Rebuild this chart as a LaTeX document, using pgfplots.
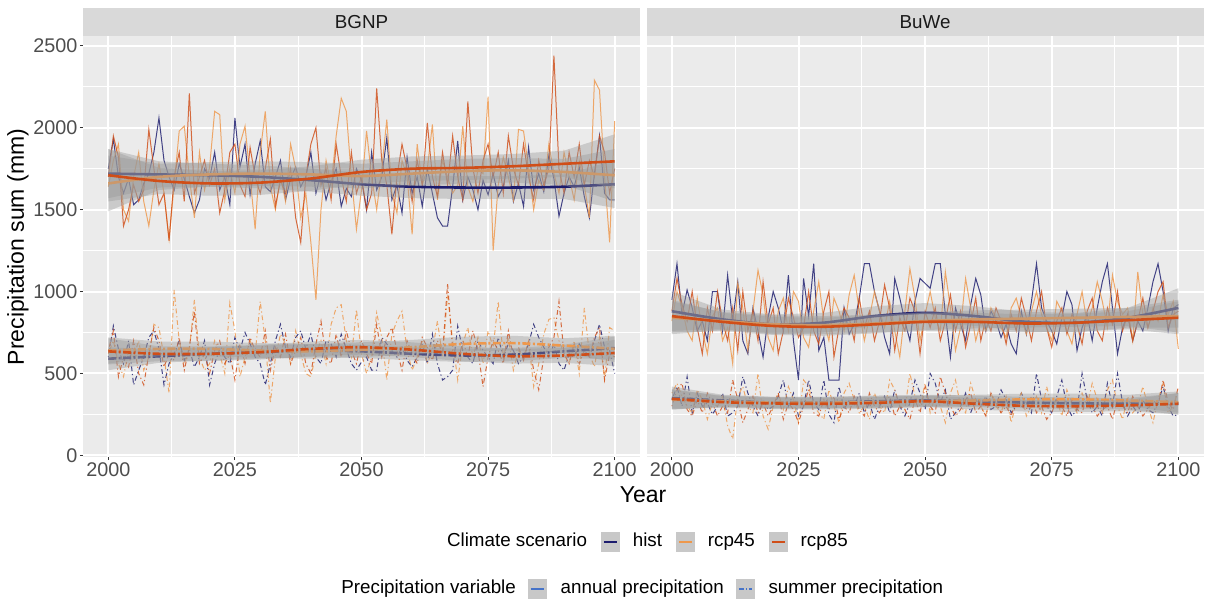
\documentclass[border=0pt]{standalone}
\usepackage{fontspec}
\setmainfont{Liberation Sans}
\usepackage{pgfplots}
\pgfplotsset{compat=1.18}
\usepackage{pgfplotstable}

\definecolor{panelbg}{HTML}{EBEBEB}
\definecolor{stripbg}{HTML}{D9D9D9}
\definecolor{grey10}{HTML}{1A1A1A}
\definecolor{grey20}{HTML}{333333}
\definecolor{grey30}{HTML}{4D4D4D}
\definecolor{ribbonc}{HTML}{999999}
\definecolor{keybg}{HTML}{C8C8C8}
\definecolor{histc}{RGB}{28,28,110}
\definecolor{rcpA}{RGB}{238,152,76}
\definecolor{rcpB}{RGB}{208,78,24}
\definecolor{varc}{RGB}{70,115,200}

\newcommand{\ticksize}{\fontsize{9.9}{11}\selectfont}
\newcommand{\stripsize}{\fontsize{9.4}{11}\selectfont}
\newcommand{\titlesize}{\fontsize{11.5}{13}\selectfont}
\newcommand{\legsize}{\fontsize{9.4}{11}\selectfont}

% yearly precipitation sums (mm): annual (A) and summer (S) for hist (h), rcp45 (a), rcp85 (b)
\pgfplotstableread{
year hA aA bA hS aS bS
2000 1750 1640 1700 600 620 640
2001 1930 1800 1950 790 700 760
2002 1700 1900 1820 650 560 480
2003 1600 1500 1400 560 480 600
2004 1690 1430 1500 700 640 540
2005 1530 1700 1650 430 600 700
2006 1560 1850 1550 520 700 500
2007 1660 1550 1620 600 520 430
2008 1720 1400 1990 720 600 620
2009 1850 1620 1750 760 800 780
2010 2060 1780 1530 650 780 700
2011 1800 1600 1600 430 600 540
2012 1700 1320 1310 560 380 620
2013 1620 1650 1700 620 1010 580
2014 1780 1980 1850 700 700 720
2015 1690 2010 1550 580 560 520
2016 1580 1700 2210 650 640 660
2017 1480 1450 1600 540 950 880
2018 1560 1850 1700 600 600 560
2019 1750 1620 1800 700 520 620
2020 1690 1760 1650 430 560 500
2021 1850 2100 1750 560 700 640
2022 1620 2080 1480 650 620 700
2023 1700 1560 1620 600 500 560
2024 1530 1750 1850 560 930 620
2025 2060 1600 1900 720 760 460
2026 1760 1900 1650 640 480 680
2027 1900 2010 1580 750 600 560
2028 1590 1700 1880 680 700 720
2029 1780 1380 1700 600 620 640
2030 1920 1850 1600 560 940 600
2031 1640 2100 1750 430 700 760
2032 1610 1640 1930 560 320 520
2033 1700 1500 1520 700 600 660
2034 1800 1700 1680 800 740 600
2035 1560 1550 1600 660 680 740
2036 1690 1900 1750 600 560 560
2037 1760 1750 1450 720 760 640
2038 1640 1450 1300 760 620 720
2039 1700 1600 1700 650 500 560
2040 1850 1300 1900 740 480 500
2041 1600 950 2000 600 620 680
2042 1720 1500 1650 560 700 820
2043 1560 1800 1750 700 560 600
2044 1670 1650 1560 680 800 560
2045 1750 1950 1900 600 900 740
2046 1520 2180 1700 740 920 600
2047 1630 2100 1550 650 700 760
2048 1580 1700 1850 560 600 640
2049 1750 1380 1600 520 890 560
2050 1680 1620 1700 570 620 700
2051 1500 1980 1500 600 500 620
2052 1850 1700 1600 520 600 560
2053 1620 1500 2240 520 870 800
2054 1700 1750 1800 720 720 600
2055 1940 2050 1650 680 460 720
2056 1560 1600 1350 640 740 780
2057 1650 1480 1700 600 820 640
2058 1480 1800 1900 660 880 520
2059 1820 1700 1750 580 640 700
2060 1600 1350 1550 540 520 620
2061 1700 1900 1800 600 600 560
2062 1520 1650 1650 680 700 720
2063 1750 1750 2030 560 560 660
2064 1600 2020 1700 740 640 580
2065 1450 1560 1580 560 820 700
2066 1400 1800 1850 460 600 620
2067 1400 1700 1650 480 980 1050
2068 1640 1600 1950 520 700 640
2069 1920 1650 1700 790 460 560
2070 1560 2010 1560 640 680 700
2071 1700 1640 2160 600 780 600
2072 1620 1550 1750 560 600 760
2073 1500 1750 1600 700 720 640
2074 1680 1720 1800 640 560 420
2075 1590 2190 1900 600 760 600
2076 1720 1250 1700 560 660 700
2077 1580 1650 1850 720 940 640
2078 1640 1820 1600 600 600 560
2079 1800 1700 1950 680 720 760
2080 1550 1560 1750 640 520 600
2081 1660 1990 1650 560 640 660
2082 1520 1980 1900 600 600 580
2083 1880 1750 1700 680 700 700
2084 1620 1500 1560 800 420 520
2085 1720 1680 1800 720 560 400
2086 1610 1620 1650 660 740 600
2087 1830 1900 1750 600 830 660
2088 1690 1720 2440 680 840 720
2089 1460 1600 1750 560 700 940
2090 1600 1850 1600 520 620 620
2091 1700 1700 1850 620 560 560
2092 1640 1560 1700 600 700 680
2093 1760 1800 1900 680 500 560
2094 1580 1650 1650 640 900 640
2095 1450 1450 1800 600 620 600
2096 1720 2290 1700 700 540 720
2097 1950 2230 1950 800 720 780
2098 1600 1700 1850 660 470 460
2099 1560 1300 1600 640 780 620
2100 1560 2040 1750 500 760 600
}\bgnp

\pgfplotstableread{
year hA aA bA hS aS bS
2000 950 820 880 340 380 300
2001 1170 1000 1080 420 440 400
2002 860 900 920 300 360 440
2003 1010 760 820 480 300 280
2004 900 700 1000 260 260 240
2005 760 960 780 380 400 340
2006 820 760 620 300 340 260
2007 700 620 900 320 220 380
2008 1000 850 760 250 320 320
2009 1000 900 1000 300 300 240
2010 760 700 820 380 360 300
2011 1100 780 700 240 180 260
2012 820 560 900 260 100 460
2013 1060 1050 640 300 360 340
2014 700 900 1000 480 420 200
2015 620 640 760 380 300 280
2016 900 880 880 300 260 360
2017 760 1130 700 240 500 260
2018 600 980 1060 340 240 320
2019 840 720 800 280 160 240
2020 1000 640 900 300 300 300
2021 900 880 620 360 380 380
2022 760 960 760 460 280 220
2023 1100 760 960 300 420 320
2024 700 1000 840 380 340 280
2025 460 940 720 240 200 200
2026 1080 720 780 300 460 300
2027 850 660 1000 460 420 400
2028 1170 880 760 320 300 260
2029 640 1060 680 280 260 240
2030 720 820 880 460 220 340
2031 460 700 1000 250 400 280
2032 460 960 600 200 300 360
2033 460 880 780 420 200 220
2034 900 760 900 280 380 300
2035 740 980 840 340 440 260
2036 800 1100 700 300 340 360
2037 960 880 960 380 260 280
2038 1170 700 780 260 300 240
2039 1170 840 880 320 220 380
2040 1000 1000 700 220 380 300
2041 880 880 820 300 300 260
2042 720 780 1040 360 260 320
2043 620 940 900 260 460 360
2044 1080 760 640 400 400 240
2045 960 600 840 300 300 300
2046 820 880 760 240 280 280
2047 700 1140 960 320 500 220
2048 940 960 880 460 360 340
2049 1080 700 620 380 300 260
2050 1050 860 880 280 440 420
2051 1020 1000 780 500 260 300
2052 1170 840 900 440 360 260
2053 1170 760 700 320 300 480
2054 860 1120 820 400 200 380
2055 600 900 980 220 380 300
2056 900 640 760 260 460 240
2057 800 780 880 300 300 280
2058 700 1080 660 380 260 340
2059 920 900 800 260 440 380
2060 1080 700 960 340 340 260
2061 980 820 700 300 300 300
2062 760 760 840 360 240 240
2063 880 900 760 280 380 380
2064 820 840 900 300 300 320
2065 720 780 820 400 260 260
2066 800 720 680 340 360 300
2067 680 900 860 260 200 240
2068 620 960 760 300 320 340
2069 880 840 960 380 380 300
2070 740 740 840 320 240 280
2071 940 880 700 260 300 360
2072 1170 1000 880 500 360 260
2073 900 860 1000 340 260 300
2074 820 780 780 300 420 220
2075 760 700 660 260 300 260
2076 680 940 820 360 340 340
2077 840 880 900 460 240 300
2078 1000 760 740 300 400 240
2079 920 680 860 240 320 340
2080 640 860 800 280 260 280
2081 780 1000 680 500 380 260
2082 860 800 880 340 300 360
2083 700 900 960 260 440 300
2084 900 1060 760 300 340 240
2085 1060 940 700 240 260 280
2086 1170 780 900 440 400 300
2087 900 1100 800 300 460 220
2088 620 940 1000 500 300 340
2089 780 860 760 320 220 300
2090 860 900 860 240 360 260
2091 700 700 700 300 260 360
2092 820 1120 820 260 300 300
2093 760 860 960 340 420 240
2094 900 780 780 280 300 280
2095 1060 900 880 260 200 340
2096 1170 820 1000 320 340 300
2097 1000 980 1060 420 440 460
2098 760 860 780 300 260 320
2099 900 940 860 240 300 280
2100 920 650 880 250 400 420
}\buwe

% loess fits
\pgfplotstableread{
year hA hS aA aS bA bS
2000 1720 590 1660 640 1710 635
2010 1715 605 1700 650 1675 620
2020 1710 620 1715 650 1660 620
2030 1700 630 1720 640 1665 630
2040 1680 640 1715 635 1690 650
2050 1655 635 1705 645 1730 660
2060 1640 620 1720 660 1750 645
2070 1635 610 1735 680 1755 620
2080 1635 615 1740 685 1765 605
2090 1640 635 1730 670 1780 610
2100 1655 655 1710 650 1795 625
}\bgnpfit

\pgfplotstableread{
year hA hS aA aS bA bS
2000 880 350 840 340 850 345
2010 830 335 820 330 815 325
2020 800 322 800 322 790 317
2030 810 322 795 322 785 315
2040 850 330 805 325 800 320
2050 870 335 820 330 815 330
2060 850 330 830 335 815 315
2070 815 322 835 342 805 302
2080 810 318 840 342 810 300
2090 840 315 845 335 825 305
2100 900 315 850 325 840 315
}\buwefit

% confidence bands: upper bound forwards, then lower bound backwards
\pgfplotstableread{
x hA hS aA aS bA bS
2000 1870 660 1830 720 1870 715
2010 1795 645 1780 695 1755 665
2020 1780 660 1790 695 1735 665
2030 1770 670 1795 685 1740 675
2040 1750 680 1790 680 1765 695
2050 1725 675 1780 690 1805 705
2060 1710 660 1795 705 1825 690
2070 1705 650 1810 725 1830 665
2080 1705 655 1815 730 1840 650
2090 1715 675 1810 715 1860 655
2100 1800 725 1870 730 1960 705
2100 1510 585 1550 570 1630 545
2090 1565 595 1650 625 1700 565
2080 1565 575 1665 640 1690 560
2070 1565 570 1660 635 1680 575
2060 1570 580 1645 615 1675 600
2050 1585 595 1630 600 1655 615
2040 1610 600 1640 590 1615 605
2030 1630 590 1645 595 1590 585
2020 1640 580 1640 605 1585 575
2010 1635 565 1620 605 1595 575
2000 1570 520 1490 560 1550 555
}\bgnpband

\pgfplotstableread{
x hA hS aA aS bA bS
2000 1000 420 940 400 950 405
2010 890 370 875 365 870 360
2020 860 357 855 357 845 352
2030 870 357 850 357 840 350
2040 910 365 860 360 855 355
2050 930 370 875 365 870 365
2060 910 365 885 370 870 350
2070 875 357 890 377 860 337
2080 870 353 895 377 865 335
2090 900 350 900 370 880 340
2100 1020 380 950 390 940 380
2100 780 250 750 260 740 250
2090 780 280 790 300 770 270
2080 750 283 785 307 755 265
2070 755 287 780 307 750 267
2060 790 295 775 300 760 280
2050 810 300 765 295 760 295
2040 790 295 750 290 745 285
2030 750 287 740 287 730 280
2020 740 287 745 287 735 282
2010 770 300 765 295 760 290
2000 760 280 740 280 750 285
}\buweband

\pgfplotsset{
  panel/.style={
    scale only axis, width=278.5pt, height=210.5pt,
    xmin=1995, xmax=2105, ymin=-10, ymax=2560,
    axis background/.style={fill=panelbg},
    axis line style={draw=none},
    xtick={2000,2025,2050,2075,2100},
    ytick={0,500,1000,1500,2000,2500},
    minor xtick={2012.5,2037.5,2062.5,2087.5},
    minor ytick={250,750,1250,1750,2250},
    grid=both,
    major grid style={white, line width=1pt},
    minor grid style={white, line width=0.5pt},
    tick align=outside, major tick length=1.6pt, minor tick length=0pt,
    tick style={color=grey20, line width=0.55pt},
    xtick pos=bottom, ytick pos=left,
    tick label style={font=\ticksize, text=grey30},
    xticklabel style={inner sep=0pt, yshift=-1pt},
    yticklabel style={inner sep=0pt, xshift=-1pt},
    /pgf/number format/1000 sep={},
    /pgf/number format/assume math mode=true,
  },
  raw/.style={line width=0.5pt, draw opacity=0.82, forget plot},
  sumraw/.style={dash pattern=on 0.6pt off 1.4pt on 2.4pt off 1.4pt},
  mean/.style={line width=1.3pt, smooth},
  summean/.style={dash pattern=on 4pt off 1.2pt on 1pt off 1.2pt},
  ribbon/.style={fill=ribbonc, fill opacity=0.4, draw=none},
}

% confidence band followed by its fitted curve
\newcommand{\band}[4]{%
  \addplot[ribbon] table[x=x, y=#3] {#2};
  \addplot[mean, #4] table[x=year, y=#3] {#1};
}

% one facet: raw series, then bands and fits
\newcommand{\facet}[3]{%
  \addplot[raw, histc] table[x=year, y=hA] {#1};
  \addplot[raw, histc, sumraw] table[x=year, y=hS] {#1};
  \addplot[raw, rcpA] table[x=year, y=aA] {#1};
  \addplot[raw, rcpA, sumraw] table[x=year, y=aS] {#1};
  \addplot[raw, rcpB] table[x=year, y=bA] {#1};
  \addplot[raw, rcpB, sumraw] table[x=year, y=bS] {#1};
  \band{#2}{#3}{hA}{histc}
  \band{#2}{#3}{hS}{histc, summean}
  \band{#2}{#3}{aA}{rcpA}
  \band{#2}{#3}{aS}{rcpA, summean}
  \band{#2}{#3}{bA}{rcpB}
  \band{#2}{#3}{bS}{rcpB, summean}
}

\tikzset{
  legtext/.style={anchor=west, inner sep=0pt, font=\legsize, text=black, text height=6.8pt, text depth=1.9pt},
  legkey/.style={anchor=west, inner sep=0pt, minimum width=9.6pt, minimum height=9.6pt, fill=keybg},
  keyline/.style={path picture={\draw[#1, line width=1.2pt] ([xshift=1.6pt]path picture bounding box.west) -- ([xshift=-1.6pt]path picture bounding box.east);}},
}

\begin{document}
\begin{tikzpicture}[x=1pt, y=1pt]
\path (0,0) rectangle (605,300.5);

\begin{axis}[panel, at={(41.5pt,72pt)}, anchor=south west]
  \facet{\bgnp}{\bgnpfit}{\bgnpband}
\end{axis}

\begin{axis}[panel, at={(323.3pt,72pt)}, anchor=south west,
    yticklabels={}, ytick style={draw=none}]
  \facet{\buwe}{\buwefit}{\buweband}
\end{axis}

% facet strips
\fill[stripbg] (41.5,282.5) rectangle (320,296.5);
\fill[stripbg] (323.3,282.5) rectangle (601.8,296.5);
\node[font=\stripsize, text=grey10] at (180.75,289.5) {BGNP};
\node[font=\stripsize, text=grey10] at (462.55,289.5) {BuWe};

% axis titles
\node[font=\titlesize] at (321.5,53) {Year};
\node[font=\titlesize, rotate=90] at (9,177) {Precipitation sum (mm)};

% legend: climate scenario
\node[legtext] (c0) at (223.3,29.5) {Climate scenario};
\node[legkey, keyline=histc] (c1) at ([xshift=6.5pt]c0.east) {};
\node[legtext] (c2) at ([xshift=6pt]c1.east) {hist};
\node[legkey, keyline=rcpA] (c3) at ([xshift=6.5pt]c2.east) {};
\node[legtext] (c4) at ([xshift=6pt]c3.east) {rcp45};
\node[legkey, keyline=rcpB] (c5) at ([xshift=6.5pt]c4.east) {};
\node[legtext] (c6) at ([xshift=6pt]c5.east) {rcp85};

% legend: precipitation variable
\node[legtext] (v0) at (170.5,6) {Precipitation variable};
\node[legkey, keyline=varc] (v1) at ([xshift=5.5pt]v0.east) {};
\node[legtext] (v2) at ([xshift=6.5pt]v1.east) {annual precipitation};
\node[legkey, keyline={varc, dash pattern=on 2.6pt off 0.9pt on 0.6pt off 0.9pt}] (v3) at ([xshift=5.5pt]v2.east) {};
\node[legtext] (v4) at ([xshift=6.5pt]v3.east) {summer precipitation};
\end{tikzpicture}
\end{document}
